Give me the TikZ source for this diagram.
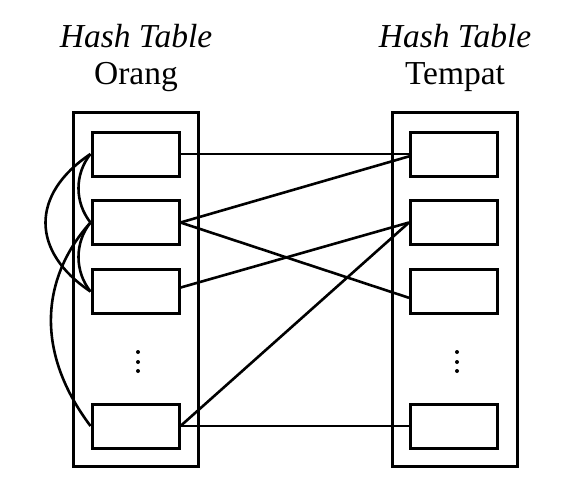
\documentclass[tikz,border=0pt]{standalone}
\usepackage{fontspec}
\setmainfont{Liberation Serif}
\begin{document}
\begin{tikzpicture}[x=1pt,y=-1pt,
  outerbox/.style={draw,line width=3pt,minimum width=125pt,minimum height=354pt,inner sep=0pt},
  cell/.style={draw,line width=3pt,minimum width=87pt,minimum height=44pt,inner sep=0pt},
  link/.style={line width=2.6pt},
  title/.style={font=\fontsize{33.5}{38}\selectfont,inner sep=0pt,anchor=base}]
\useasboundingbox (0,0) rectangle (576,480);
% titles
\node[title] (t1) at (136,47) {\itshape Hash Table};
\node[title] (t2) at (136,84) {Orang};
\node[title] (t3) at (455,47) {\itshape Hash Table};
\node[title] (t4) at (455,84) {Tempat};
% outer boxes
\node[outerbox] (L) at (135.5,289) {};
\node[outerbox] (R) at (455,289) {};
% left cells
\node[cell] (l1) at (135.5,154) {};
\node[cell] (l2) at (135.5,222.5) {};
\node[cell] (l3) at (135.5,291.5) {};
\node[cell] (l4) at (135.5,426) {};
% right cells
\node[cell] (r1) at (454,154) {};
\node[cell] (r2) at (454,222.5) {};
\node[cell] (r3) at (454,291.5) {};
\node[cell] (r4) at (454,426) {};
% dots
\foreach \yy in {352,362,371} {
  \fill (138,\yy) circle (2pt);
  \fill (457,\yy) circle (2pt);
}
% connectors between tables
\draw[link] (l1.east) -- (r1.west);
\draw[link] (l2.east) -- (r1.183);
\draw[link] (l2.east) -- (r3.188);
\draw[link] (l3.5) -- (r2.west);
\draw[link] (l4.east) -- (r2.west);
\draw[link] (l4.east) -- (r4.west);
% curves on the left
\draw[link] (l1.west) .. controls +(-16,20) and +(-16,-20) .. (l2.west);
\draw[link] (l1.west) .. controls +(-60,40) and +(-60,-40) .. (l3.west);
\draw[link] (l2.west) .. controls +(-16,20) and +(-16,-20) .. (l3.west);
\draw[link] (l2.west) .. controls +(-45,50) and +(-60,-80) .. (l4.west);
\end{tikzpicture}
\end{document}
